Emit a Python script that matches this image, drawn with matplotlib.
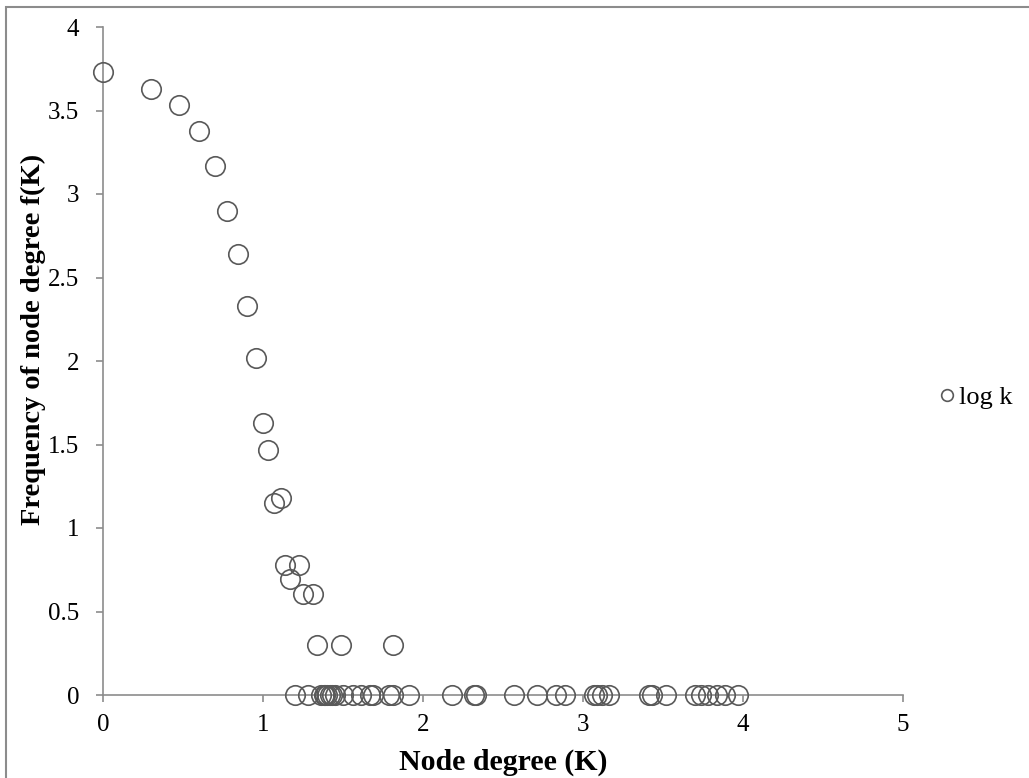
import numpy as np
import matplotlib.pyplot as plt
from matplotlib.patches import Rectangle

# log-log degree distribution: nodes with f(K) > 1
log_k = [0.0, 0.301, 0.477, 0.602, 0.699, 0.778, 0.845, 0.903, 0.954, 1.0,
         1.033, 1.07, 1.11, 1.14, 1.17, 1.225, 1.248, 1.315, 1.34, 1.486, 1.81]
log_fk = [3.73, 3.63, 3.53, 3.38, 3.17, 2.90, 2.64, 2.33, 2.02, 1.627,
          1.465, 1.15, 1.18, 0.78, 0.695, 0.78, 0.607, 0.607, 0.30, 0.30, 0.30]

# degrees that occur only once (log f = 0)
log_k_single = [1.20, 1.28, 1.36, 1.38, 1.39, 1.40, 1.42, 1.43, 1.45, 1.50,
                1.56, 1.61, 1.67, 1.69, 1.79, 1.81, 1.91, 2.18, 2.32, 2.33,
                2.57, 2.71, 2.83, 2.89, 3.07, 3.09, 3.12, 3.16, 3.41, 3.43,
                3.52, 3.70, 3.74, 3.78, 3.84, 3.89, 3.97]

x = np.concatenate([log_k, log_k_single])
y = np.concatenate([log_fk, np.zeros(len(log_k_single))])

xticks = [0, 1, 2, 3, 4, 5]
yticks = [0, 0.5, 1, 1.5, 2, 2.5, 3, 3.5, 4]

plt.rcParams["font.family"] = ["Liberation Serif", "DejaVu Serif"]

W, H = 1029, 778
fig = plt.figure(figsize=(W / 100, H / 100), dpi=100)
ax = fig.add_axes([103 / W, (H - 695) / H, 800 / W, (695 - 27) / H])

# outer chart frame
fig.patches.append(Rectangle((6 / W, -0.1), 1.2, (H - 7) / H + 0.1,
                             transform=fig.transFigure, fill=False,
                             edgecolor="#8c8c8c", linewidth=1.5))

ax.plot(x, y, linestyle="none", marker="o", markersize=14,
        markerfacecolor="none", markeredgecolor="#595959",
        markeredgewidth=1.2, clip_on=False, zorder=3, label="log k")

ax.set_xlim(0, 5)
ax.set_ylim(0, 4)
ax.set_xticks(xticks)
ax.set_yticks(yticks)
ax.set_xticklabels([str(t) for t in xticks])
ax.set_yticklabels([f"{t:g}" for t in yticks])

for side in ["top", "right"]:
    ax.spines[side].set_visible(False)
for side in ["left", "bottom"]:
    ax.spines[side].set_color("#8c8c8c")
    ax.spines[side].set_linewidth(1.2)

ax.tick_params(axis="both", direction="out", length=5, width=1.2,
               color="#8c8c8c", labelsize=18, labelcolor="black")
ax.tick_params(axis="y", pad=12)
ax.tick_params(axis="x", pad=9)

fig.text(503 / W, 1 - 762 / H, "Node degree (K)", ha="center", va="center",
         fontsize=21.5, fontweight="bold")
fig.text(33 / W, 1 - 339 / H, "Frequency of node degree f(K)", ha="center",
         va="center", rotation=90, fontsize=20.5, fontweight="bold")

leg = ax.legend(loc="center left", bbox_to_anchor=(939 / W, 1 - 397 / H),
                bbox_transform=fig.transFigure, frameon=False, fontsize=19,
                markerscale=0.6, handlelength=0.6, handletextpad=0.15,
                borderpad=0, borderaxespad=0)

fig.savefig("out.png", dpi=100, facecolor="white")
